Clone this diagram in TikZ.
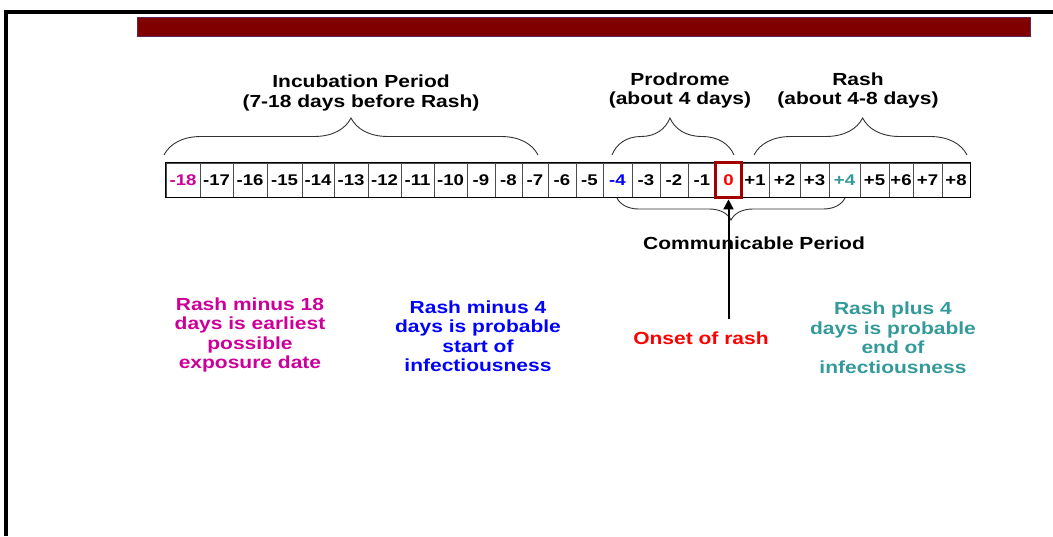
\documentclass[tikz,border=0pt]{standalone}
\usepackage{fontspec}
\setmainfont{Liberation Sans}[FakeStretch=1.2]
\usetikzlibrary{arrows.meta,decorations.pathreplacing}
\definecolor{barred}{RGB}{128,0,0}
\definecolor{barframe}{RGB}{90,40,90}
\definecolor{numpink}{RGB}{204,0,153}
\definecolor{numblue}{RGB}{0,0,255}
\definecolor{numteal}{RGB}{51,153,153}
\definecolor{onsetred}{RGB}{255,0,0}
\definecolor{zerored}{RGB}{160,0,0}
\tikzset{
	cell/.style={draw=black!70, line width=0.8pt, minimum height=34pt, inner sep=0pt, font=\fontsize{15.5}{17}\selectfont\bfseries},
	lbl/.style={font=\fontsize{17.5}{19.5}\selectfont\bfseries, align=center, inner sep=0pt},
	brc/.style={decorate, decoration={brace, amplitude=#1}, draw=black!80, line width=0.9pt},
	brc/.default=37pt
}
\begin{document}
\begin{tikzpicture}[x=1pt, y=-1pt]
	\useasboundingbox (0,0) rectangle (1053,536);
	\draw[line width=4pt] (1053,12) -- (6,12) -- (6,536);
	\draw[fill=barred, draw=barframe, line width=1pt] (137,17) rectangle (1030,36);

	\foreach \a/\b/\t/\c [count=\i] in {166/200/-18/numpink, 200/233/-17/black, 233/267/-16/black, 267/302/-15/black, 302/334/-14/black, 334/368/-13/black, 368/401/-12/black, 401/434/-11/black, 434/467/-10/black, 467/495/-9/black, 495/522/-8/black, 522/548/-7/black, 548/576/-6/black, 576/603/-5/black, 603/632/-4/numblue, 632/660/-3/black, 660/688/-2/black, 688/716/-1/black, 716/741/0/onsetred, 741/769/+1/black, 769/800/+2/black, 800/829/+3/black, 829/860/+4/numteal, 860/889/+5/black, 889/913/+6/black, 913/942/+7/black, 942/970/+8/black}{
		\pgfmathsetmacro\cw{\b-\a}
		\node[cell, minimum width=\cw pt, text=\c] (c\i) at ({(\a+\b)/2},180) {\t};
	}
	\draw[line width=1.6pt] (c1.north west) rectangle (c27.south east);
	\draw[zerored, line width=2.6pt] (c19.north west) rectangle (c19.south east);

	\draw[brc] (164,155) -- (538,155);
	\draw[brc, decoration={aspect=0.475}] (612,155) -- (734,155);
	\draw[brc, decoration={aspect=0.51}] (754,155) -- (967,155);
	\draw[brc=22pt] (845,198) -- (617,198);

	\node[lbl] (incub) at (361,93) {Incubation Period\\(7-18 days before Rash)};
	\node[lbl] (prod) at (680,90.5) {Prodrome\\(about 4 days)};
	\node[lbl] (rash) at (858,90.5) {Rash\\(about 4-8 days)};
	\node[lbl] (comm) at (754,243) {Communicable Period};

	\node[lbl, text=numpink] (earliest) at (250,335) {Rash minus 18\\days is earliest\\possible\\exposure date};
	\node[lbl, text=numblue] (start) at (478,336) {Rash minus 4\\days is probable\\start of\\infectiousness};
	\node[lbl, text=onsetred] (onset) at (701,338) {Onset of rash};
	\node[lbl, text=numteal] (end) at (893,337.5) {Rash plus 4\\days is probable\\end of\\infectiousness};

	\draw[line width=2pt, -{Triangle[width=10pt, length=10pt]}, shorten <=12pt, shorten >=2pt] (onset.north -| c19.south) -- (c19.south);
\end{tikzpicture}
\end{document}
